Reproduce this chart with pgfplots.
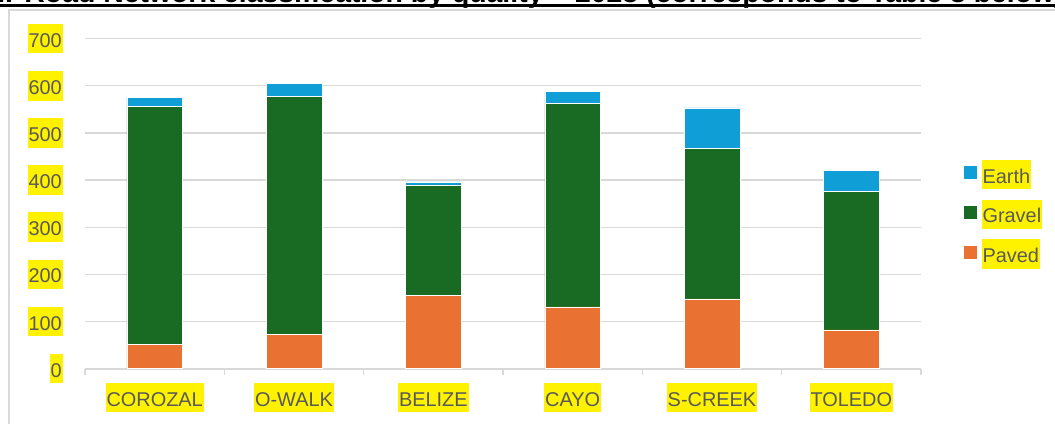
\documentclass[border=0pt]{standalone}
\usepackage{pgfplots}
\pgfplotsset{compat=1.18}
\usepackage{fontspec}
\setmainfont{Liberation Sans}
\definecolor{paved}{HTML}{E97132}
\definecolor{gravel}{HTML}{196B24}
\definecolor{earth}{HTML}{0F9ED5}
\definecolor{gridc}{HTML}{D9D9D9}
\definecolor{txt}{HTML}{595959}
\newcommand{\hl}[1]{{\setlength{\fboxsep}{0pt}\colorbox{yellow}{\rule[-6bp]{0pt}{29.4bp}\hspace{1bp}#1\hspace{1bp}}}}
\pgfplotsset{sq legend/.style={legend image code/.code={\fill[##1] (0bp,-7bp) rectangle (14bp,7bp);}}}
\begin{document}
\begin{tikzpicture}
\path[use as bounding box] (0bp,0bp) rectangle (1055bp,-424bp);
\node[anchor=base west, font=\fontsize{28.5}{32}\selectfont\bfseries, inner sep=0pt] at (-62bp,-2.5bp) {Fig 2: Road Network classification by quality – 2023 (corresponds to Table 3 below)};
\draw[black, line width=2.4bp] (-10bp,-5.5bp) -- (1065bp,-5.5bp);
\draw[gridc, line width=1.8bp] (9bp,-440bp) -- (9bp,-10bp) -- (1070bp,-10bp);
\begin{axis}[
  at={(85bp,-368.5bp)}, anchor=south west,
  width=836bp, height=329.8bp, scale only axis,
  xmin=-0.5, xmax=5.5, ymin=0, ymax=700,
  ybar stacked, bar width=0.4,
  xtick={0,...,5},
  xticklabels={\hl{COROZAL},\hl{O-WALK},\hl{BELIZE},\hl{CAYO},\hl{S-CREEK},\hl{TOLEDO}},
  ytick={0,100,...,700},
  axis x line*=bottom, axis y line*=left,
  y axis line style={draw=none},
  x axis line style={draw=gridc, line width=2bp},
  ymajorgrids, grid style={draw=gridc, line width=1.3bp},
  major tick length=0pt,
  extra x ticks={-0.5,0.5,1.5,2.5,3.5,4.5,5.5},
  extra x tick labels={},
  extra x tick style={tick align=outside, major tick length=6.5bp, tick style={draw=gridc, line width=1.5bp}},
  ticklabel style={font=\fontsize{20}{24}\selectfont, text=txt},
  yticklabel style={fill=yellow, inner xsep=1bp, inner ysep=0pt, text height=23.4bp, text depth=6bp, xshift=-22bp},
  xticklabel style={inner sep=0pt, yshift=-14bp},
  /pgf/number format/assume math mode=true,
  reverse legend,
  legend cell align=left,
  legend style={at={(axis description cs:1.05,0.634)}, anchor=north west, draw=none, fill=none, inner sep=0pt, row sep=15bp, column sep=4bp, font=\fontsize{20}{24}\selectfont, text=txt, nodes={inner sep=0pt}},
]
\addplot[fill=paved, draw=white, line width=0.5bp, sq legend] coordinates {(0,52) (1,73) (2,156) (3,131) (4,148) (5,82)};
\addplot[fill=gravel, draw=white, line width=0.5bp, sq legend] coordinates {(0,504) (1,505) (2,234) (3,432) (4,319) (5,294)};
\addplot[fill=earth, draw=white, line width=0.5bp, sq legend] coordinates {(0,19) (1,27) (2,6) (3,25) (4,86) (5,44)};
\legend{\hl{Paved},\hl{Gravel},\hl{Earth}}
\end{axis}
\end{tikzpicture}
\end{document}
